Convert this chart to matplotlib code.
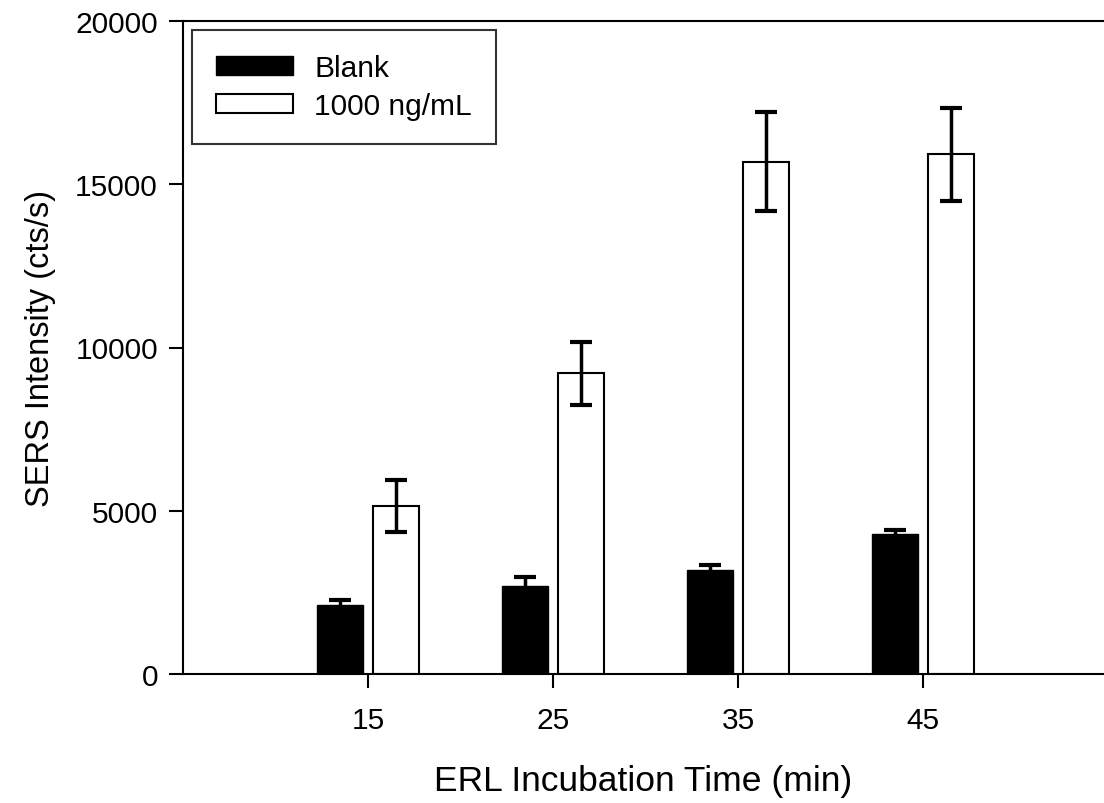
import numpy as np
import matplotlib
matplotlib.use('Agg')
import matplotlib.pyplot as plt

plt.rcParams['font.family'] = ['Liberation Sans', 'DejaVu Sans']

times = [15, 25, 35, 45]
blank = [2100, 2690, 3170, 4280]
blank_err = [180, 290, 180, 120]
conc = [5140, 9210, 15690, 15920]
conc_err = [790, 960, 1520, 1430]

fig = plt.figure(figsize=(11.04, 8.04), dpi=100)
ax = fig.add_axes([183 / 1104, 129 / 804, 921 / 1104, 653 / 804])

x = np.array(times, dtype=float)
w = 2.5
ekw = dict(elinewidth=2.5, capthick=3, ecolor='black')
ax.bar(x - 1.5, blank, w, color='black', edgecolor='black', label='Blank',
       yerr=blank_err, capsize=8, error_kw=ekw)
ax.bar(x + 1.5, conc, w, color='white', edgecolor='black', linewidth=1.5,
       label='1000 ng/mL', yerr=conc_err, capsize=8, error_kw=ekw)

ax.set_xlim(5, 5 + 921 / 18.5)
ax.set_ylim(0, 20000)
ax.set_xticks(times)
ax.set_yticks([0, 5000, 10000, 15000, 20000])
ax.tick_params(labelsize=21.5, length=10, width=1.5, direction='out', pad=8)
ax.tick_params(axis='x', pad=13)

ax.spines['right'].set_visible(False)
for s in ['left', 'bottom', 'top']:
    ax.spines[s].set_linewidth(1.5)

ax.set_xlabel('ERL Incubation Time (min)', fontsize=25.5, labelpad=22)
ax.set_ylabel('SERS Intensity (cts/s)', fontsize=23.5, labelpad=14)

leg = ax.legend(loc='upper left', fontsize=21.5, frameon=True, fancybox=False,
                edgecolor='black', handlelength=2.6, handleheight=0.6,
                borderaxespad=0.3, borderpad=0.8, labelspacing=0.35,
                handletextpad=0.7)
leg.get_frame().set_linewidth(1.5)

fig.savefig('out.png', dpi=100)
